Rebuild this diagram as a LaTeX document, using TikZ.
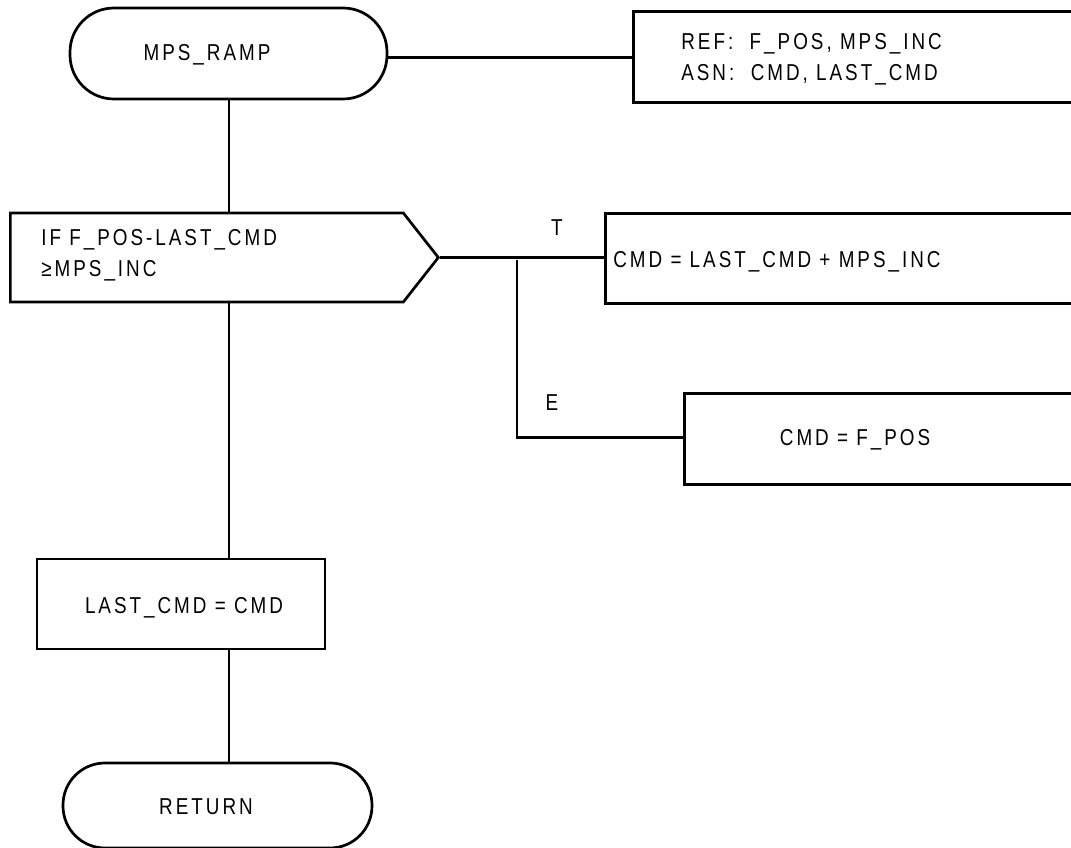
\documentclass[tikz,border=0pt]{standalone}
\usepackage{fontspec}
\setmainfont{Liberation Sans}[LetterSpace=13, FakeStretch=0.82]
\usetikzlibrary{shapes.symbols}
\begin{document}
\begin{tikzpicture}[x=1pt,y=-1pt,
  line width=2.7pt,
  every node/.style={font=\fontsize{23}{31}\selectfont, inner sep=0pt},
  terminal/.style={draw, rectangle, rounded corners=44pt},
  procbox/.style={draw, rectangle},
  decision/.style={draw, signal, signal to=east, signal pointer angle=103.6},
  txt/.style={anchor=west, align=left},
  conn/.style={line width=2.7pt}]
\useasboundingbox (0,0) rectangle (1071,848);
\clip (0,0) rectangle (1071,848);
% start terminal
\node (start) [terminal, minimum width=317pt, minimum height=91pt] at (228.5,53.5) {};
\node (startT) at (207,55) {MPS\_RAMP};
% REF box
\node (ref) [procbox, minimum width=470pt, minimum height=91pt, anchor=north west] at (632,10) {};
\node (refT) [txt] at (680,59) {REF:\ \ F\_POS, MPS\_INC\\ASN:\ \ CMD, LAST\_CMD};
% decision
\node (dec) [decision, minimum width=428pt, minimum height=89pt, anchor=west] at (9,257.5) {};
\node (decT) [txt] at (40,255) {IF F\_POS-LAST\_CMD\\≥MPS\_INC};
% true box
\node (tbox) [procbox, minimum width=480pt, minimum height=90pt, anchor=north west] at (604,212) {};
\node (tT) [txt] at (612,262) {CMD = LAST\_CMD + MPS\_INC};
% else box
\node (ebox) [procbox, minimum width=400pt, minimum height=91pt, anchor=north west] at (683,392) {};
\node (eT) at (855,440) {CMD = F\_POS};
% last box
\node (last) [procbox, minimum width=288pt, minimum height=90pt] at (181,604) {};
\node (lastT) at (184,608) {LAST\_CMD = CMD};
% return terminal
\node (ret) [terminal, minimum width=309pt, minimum height=85pt, rounded corners=42pt] at (217.5,805.5) {};
\node (retT) at (206,807) {RETURN};
% branch coordinates
\coordinate (br) at (517,260);
\coordinate (brE) at (517,437.5);
% labels
\node (labT) at (557,228) {T};
\node (labE) at (552,403) {E};
% connectors
\draw[conn] (start.east |- 0,57.5) -- (ref.west |- 0,57.5);
\draw[conn] (start.south -| 229,0) -- (dec.north -| 229,0);
\draw[conn] (dec.east) -- (tbox.west |- dec.east);
\draw[conn] (br) -- (brE) -- (ebox.west |- brE);
\draw[conn] (dec.south -| 229,0) -- (last.north -| 229,0);
\draw[conn] (last.south -| 229,0) -- (ret.north -| 229,0);
\end{tikzpicture}
\end{document}
